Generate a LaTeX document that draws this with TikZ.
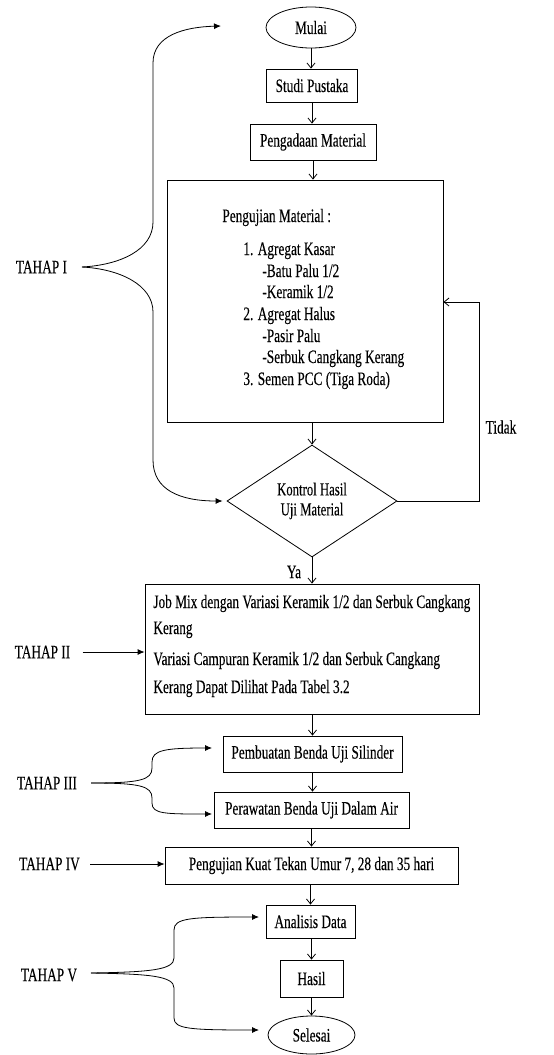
\documentclass[tikz,border=0pt]{standalone}
\usepackage{fontspec}
\setmainfont[FakeStretch=0.70,FakeBold=0.15]{Liberation Serif}
\usetikzlibrary{shapes.geometric,arrows.meta}
\begin{document}
\begin{tikzpicture}[x=1pt,y=-1pt,
  line width=0.8pt,
  font=\fontsize{19}{22}\selectfont,
  box/.style={draw, rectangle, inner sep=0pt, align=center},
  oval/.style={draw, ellipse, inner sep=0pt},
  arr/.style={-{Straight Barb[length=5pt,width=8pt]}},
  farr/.style={-{Latex[length=7pt,width=6pt]}},
  lbl/.style={anchor=base west, inner sep=0pt},
  tahap/.style={inner sep=0pt}
]
\useasboundingbox (0,0) rectangle (554,1055);
% main flow nodes
\node[oval, minimum width=90, minimum height=41] (mulai) at (311,27.5) {Mulai};
\node[box, minimum width=91, minimum height=33] (studi) at (312,85.5) {Studi Pustaka};
\node[box, minimum width=126, minimum height=36] (pengadaan) at (313,142) {Pengadaan Material};
\node[box, minimum width=276, minimum height=242] (uji) at (305,301) {};
\node[lbl] (t0) at (222,222) {Pengujian Material :};
\node[lbl] (t1) at (243,255) {1. Agregat Kasar};
\node[lbl] (t2) at (262,277) {-Batu Palu 1/2};
\node[lbl] (t3) at (262,298) {-Keramik 1/2};
\node[lbl] (t4) at (243,320) {2. Agregat Halus};
\node[lbl] (t5) at (262,342) {-Pasir Palu};
\node[lbl] (t6) at (262,363) {-Serbuk Cangkang Kerang};
\node[lbl] (t7) at (243,385) {3. Semen PCC (Tiga Roda)};
\node[draw, diamond, minimum width=170, minimum height=112, inner sep=0pt, align=center,
      font=\fontsize{18.2}{20}\selectfont] (kontrol) at (312,501) {Kontrol Hasil\\Uji Material};
\node[box, minimum width=334, minimum height=130] (jobmix) at (312,649) {};
\node[lbl] (j1) at (153,608) {Job Mix dengan Variasi Keramik 1/2 dan Serbuk Cangkang};
\node[lbl] (j2) at (153,634) {Kerang};
\node[lbl] (j3) at (153,665) {Variasi Campuran Keramik 1/2 dan Serbuk Cangkang};
\node[lbl] (j4) at (153,693) {Kerang Dapat Dilihat Pada Tabel 3.2};
\node[box, minimum width=179, minimum height=36] (pembuatan) at (312.5,754) {Pembuatan Benda Uji Silinder};
\node[box, minimum width=195, minimum height=36] (perawatan) at (311.5,810) {Perawatan Benda Uji Dalam Air};
\node[box, minimum width=293, minimum height=37] (pengujian) at (311.5,865.5) {Pengujian Kuat Tekan Umur 7, 28 dan 35 hari};
\node[box, minimum width=89, minimum height=33] (analisis) at (310.5,921.5) {Analisis Data};
\node[box, minimum width=63, minimum height=37] (hasil) at (311.5,978.5) {Hasil};
\node[oval, minimum width=87, minimum height=38] (selesai) at (311.5,1035) {Selesai};
% labels
\node[tahap] (ya) at (294,572) {Ya};
\node[tahap] (tidak) at (501,427) {Tidak};
\node[tahap] (th1) at (41.5,267) {TAHAP I};
\node[tahap] (th2) at (42.5,652) {TAHAP II};
\node[tahap] (th3) at (47,783) {TAHAP III};
\node[tahap] (th4) at (49.5,864) {TAHAP IV};
\node[tahap] (th5) at (49,975) {TAHAP V};
% main arrows
\draw[arr] (mulai.south) -- (mulai.south |- studi.north);
\draw[arr] (studi.south) -- (studi.south |- pengadaan.north);
\draw[arr] (pengadaan.south) -- (pengadaan.south |- uji.north);
\draw[arr] (kontrol.north |- uji.south) -- (kontrol.north);
\draw[arr] (kontrol.south) -- (kontrol.south |- jobmix.north);
\draw[arr] (pembuatan.north |- jobmix.south) -- (pembuatan.north);
\draw[arr] (pembuatan.south) -- (pembuatan.south |- perawatan.north);
\draw[arr] (perawatan.south) -- (perawatan.south |- pengujian.north);
\draw[arr] (analisis.north |- pengujian.south) -- (analisis.north);
\draw[arr] (hasil.north |- analisis.south) -- (hasil.north);
\draw[arr] (hasil.south) -- (hasil.south |- selesai.north);
% feedback
\coordinate (fb) at (479,302);
\draw[arr] (kontrol.east) -| (fb) -- (fb -| uji.east);
% TAHAP I bracket
\coordinate (tip1) at (82,267);
\coordinate (end1a) at (221,26);
\draw[farr] (tip1) .. controls (120,265) and (153,250) .. (153,222) -- (153,63)
  .. controls (153,35) and (185,27) .. (end1a);
\draw[farr] (tip1) .. controls (120,269) and (153,285) .. (153,312) -- (153,460)
  .. controls (153,490) and (180,501) .. ([xshift=-4pt]kontrol.west);
% TAHAP II
\draw[farr] (th2.east) ++(12,0) coordinate (s2) -- (s2 -| jobmix.west);
% TAHAP III bracket
\coordinate (tip3) at (91,783);
\coordinate (end3a) at (212,748);
\coordinate (end3b) at (212,814);
\draw[farr] (tip3) .. controls (140,783) and (152,780) .. (152,768) -- (152,762)
  .. controls (152,750) and (165,748) .. (end3a);
\draw[farr] (tip3) .. controls (140,783) and (152,786) .. (152,798) -- (152,803)
  .. controls (152,814) and (165,814) .. (end3b);
% TAHAP IV
\draw[farr] (th4.east) ++(10,0) coordinate (s4) -- (s4 -| pengujian.west);
% TAHAP V bracket
\coordinate (tip5) at (91,973);
\coordinate (end5a) at (259,917);
\coordinate (end5b) at (259,1030);
\draw[farr] (tip5) .. controls (150,972) and (174,970) .. (174,958) -- (174,930)
  .. controls (174,918) and (190,917) .. (end5a);
\draw[farr] (tip5) .. controls (150,974) and (174,976) .. (174,988) -- (174,1018)
  .. controls (174,1029) and (190,1030) .. (end5b);
\end{tikzpicture}
\end{document}
